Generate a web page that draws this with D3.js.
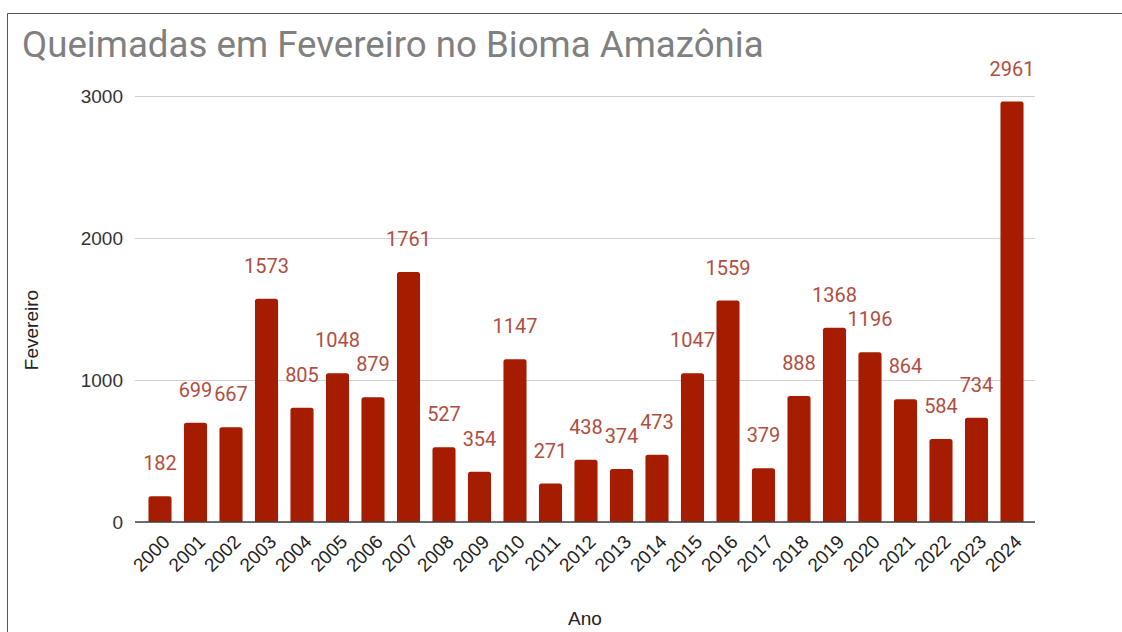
<!DOCTYPE html>
<html>
<head>
<meta charset="utf-8">
<script src="https://cdn.jsdelivr.net/npm/d3@7"></script>
<style>
html,body{margin:0;padding:0;background:#fff;}
svg{display:block;}
</style>
</head>
<body>
<svg id="chart" width="1122" height="632"></svg>
<script>
const years = ["2000","2001","2002","2003","2004","2005","2006","2007","2008","2009","2010","2011","2012","2013","2014","2015","2016","2017","2018","2019","2020","2021","2022","2023","2024"];
const fires = [182,699,667,1573,805,1048,879,1761,527,354,1147,271,438,374,473,1047,1559,379,888,1368,1196,864,584,734,2961];
const yTicks = [0,1000,2000,3000];
const title = "Queimadas em Fevereiro no Bioma Amazônia";
const yTitle = "Fevereiro";
const xTitle = "Ano";

const svg = d3.select("#chart");
const barColor = "#a61c00";
const labelColor = "#b04e40";

// frame
svg.append("line").attr("x1",7.5).attr("x2",1122).attr("y1",13.5).attr("y2",13.5).attr("stroke","#555").attr("stroke-width",1);
svg.append("line").attr("x1",7.5).attr("x2",7.5).attr("y1",13.5).attr("y2",632).attr("stroke","#555").attr("stroke-width",1);

const x = d3.scaleBand().domain(years).range([142.25, 1029.75]).paddingInner(0.35).paddingOuter(0.175);
const y = d3.scaleLinear().domain([0,3000]).range([522,96]);

// title
const t = svg.append("text").attr("x",22).attr("y",57)
  .attr("font-family","Roboto, sans-serif").attr("font-size",35).attr("fill","#808080").text(title);
const tw = t.node().getComputedTextLength();
t.attr("font-size", 35*742/tw);

// gridlines
const yAxis = d3.axisLeft(y).tickValues(yTicks).tickSize(-(1035-135)).tickPadding(12).tickFormat(d3.format("d"));
const gy = svg.append("g").attr("transform","translate(135,0)").call(yAxis);
gy.select(".domain").remove();
gy.selectAll(".tick line").attr("stroke","#d0d0d0").attr("stroke-width",1);
gy.selectAll(".tick text").attr("font-family","'Liberation Sans', Arial, sans-serif").attr("font-size",19).attr("fill","#333").attr("x",-12);

// bars
svg.append("g").selectAll("path").data(years).join("path")
  .attr("fill",barColor)
  .attr("d",(d,i)=>{
    const x0 = x(d), w = x.bandwidth(), y0 = y(fires[i]), y1 = y(0), r = 2.5;
    return `M${x0},${y1}V${y0+r}Q${x0},${y0} ${x0+r},${y0}H${x0+w-r}Q${x0+w},${y0} ${x0+w},${y0+r}V${y1}Z`;
  });

// baseline
svg.append("line").attr("x1",135).attr("x2",1035).attr("y1",y(0)).attr("y2",y(0)).attr("stroke","#444").attr("stroke-width",1.5);

// data labels
svg.append("g").selectAll("text").data(years).join("text")
  .attr("x",d=>x(d)+x.bandwidth()/2)
  .attr("y",(d,i)=>y(fires[i])-26)
  .attr("text-anchor","middle")
  .attr("font-family","Roboto, sans-serif").attr("font-size",20).attr("fill",labelColor)
  .text((d,i)=>fires[i]);

// x axis labels
const xAxis = d3.axisBottom(x).tickSize(0).tickPadding(0);
const gx = svg.append("g").attr("transform",`translate(0,${y(0)})`).call(xAxis);
gx.select(".domain").remove();
gx.selectAll(".tick text")
  .attr("font-family","'Liberation Sans', Arial, sans-serif").attr("font-size",19).attr("fill","#222")
  .attr("text-anchor","end").attr("dy",0).attr("y",0)
  .attr("transform","translate(11,21) rotate(-45)");

// axis titles
svg.append("text").attr("transform","translate(38,330) rotate(-90)").attr("text-anchor","middle")
  .attr("font-family","'Liberation Sans', Arial, sans-serif").attr("font-size",19).attr("fill","#222").text(yTitle);
svg.append("text").attr("x",585).attr("y",625).attr("text-anchor","middle")
  .attr("font-family","'Liberation Sans', Arial, sans-serif").attr("font-size",19).attr("fill","#222").text(xTitle);
</script>
</body>
</html>
